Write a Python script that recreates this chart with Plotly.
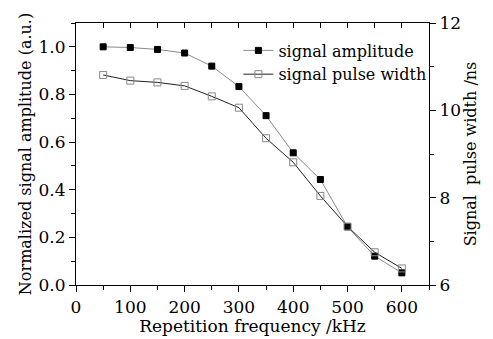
import plotly.graph_objects as go

freq = [50, 100, 150, 200, 250, 300, 350, 400, 450, 500, 550, 600]
amplitude = [1.0, 0.997, 0.989, 0.974, 0.919, 0.833, 0.711, 0.555, 0.443, 0.244, 0.121, 0.051]
pulse_width = [10.81, 10.68, 10.64, 10.56, 10.32, 10.06, 9.36, 8.81, 8.04, 7.34, 6.75, 6.38]

FONT = "DejaVu Serif"
fig = go.Figure()
fig.add_trace(go.Scatter(
    x=freq, y=amplitude, name="signal amplitude", mode="lines+markers",
    line=dict(color="#8a8a8a", width=1),
    marker=dict(symbol="square", size=6, color="black", line=dict(color="black", width=1)),
    yaxis="y"))
fig.add_trace(go.Scatter(
    x=freq, y=pulse_width, name="signal pulse width", mode="lines+markers",
    line=dict(color="#222222", width=1),
    marker=dict(symbol="square-open", size=7, color="#888888", line=dict(width=1)),
    yaxis="y2"))

axcommon = dict(showline=True, linecolor="black", linewidth=1.2, ticks="outside",
                ticklen=6, tickcolor="black", showgrid=False, zeroline=False,
                tickfont=dict(family=FONT, size=17, color="black"))
fig.update_layout(
    width=493, height=339,
    margin=dict(l=76, r=64, t=23, b=54),
    paper_bgcolor="white", plot_bgcolor="white",
    font=dict(family=FONT, color="black"),
    showlegend=True,
    legend=dict(x=0.46, y=0.96, xanchor="left", yanchor="top",
                bgcolor="rgba(0,0,0,0)", font=dict(family=FONT, size=16),
                tracegroupgap=0, itemwidth=30),
    xaxis=dict(range=[0, 650], dtick=100, tick0=0,
               minor=dict(ticks="outside", dtick=50, ticklen=4, tickcolor="black"),
               title=dict(text="Repetition frequency /kHz", font=dict(family=FONT, size=17), standoff=0),
               **axcommon),
    xaxis2=dict(range=[0, 650], overlaying="x", side="top", showline=True, linecolor="black",
                linewidth=1.2, ticks="inside", ticklen=5, dtick=50, tick0=0,
                showticklabels=False, showgrid=False, zeroline=False, tickcolor="black"),
    yaxis=dict(range=[0, 1.1], dtick=0.2, tick0=0, tickformat=".1f",
               minor=dict(ticks="outside", dtick=0.1, ticklen=4, tickcolor="black"),
               title=dict(text="Normalized signal amplitude (a.u.)", font=dict(family=FONT, size=16), standoff=2),
               **axcommon),
    yaxis2=dict(range=[6, 12], dtick=2, tick0=6, overlaying="y", side="right",
                minor=dict(ticks="outside", dtick=1, ticklen=4, tickcolor="black"),
                title=dict(text="Signal  pulse width /ns", font=dict(family=FONT, size=16), standoff=2),
                **axcommon),
)
fig.add_trace(go.Scatter(x=[None], y=[None], xaxis="x2", showlegend=False))
fig.write_html("out.html")
